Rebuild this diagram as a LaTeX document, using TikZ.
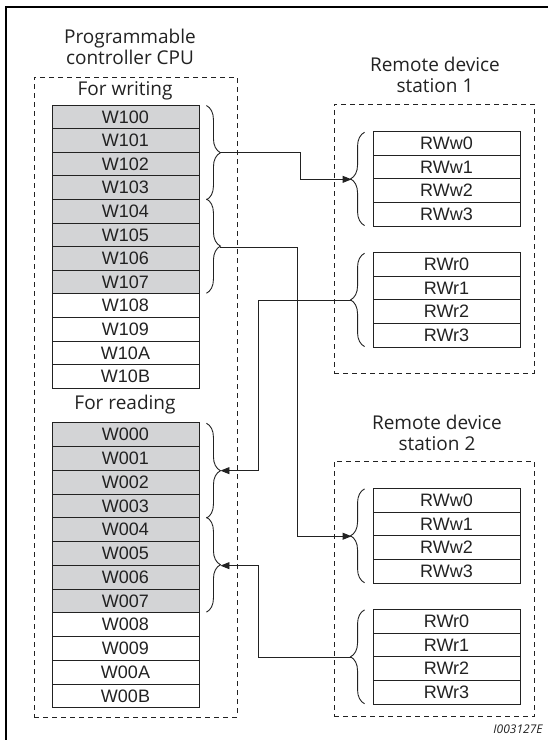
\documentclass[tikz,border=0pt]{standalone}
\usepackage{fontspec}
\setmainfont{Liberation Sans}
\newfontfamily\titlefont{Open Sans}
\usetikzlibrary{arrows.meta,decorations.pathreplacing,calc}
\definecolor{cellgray}{HTML}{D3D4D6}
\definecolor{ink}{HTML}{222222}
\begin{document}
\begin{tikzpicture}[x=1pt,y=-1pt,
  cell/.style={draw=ink, line width=0.9pt, minimum width=147pt, minimum height=23.6pt,
    inner sep=0pt, font=\fontsize{18}{18}\selectfont, text=ink},
  gcell/.style={cell, fill=cellgray},
  title/.style={font=\titlefont\fontsize{19}{21}\selectfont, align=center, text=ink, inner sep=0pt},
  dbox/.style={draw=ink, line width=0.9pt, dash pattern=on 5pt off 4pt, inner sep=0pt},
  brc/.style={draw=ink, line width=0.9pt, decorate, decoration={brace, amplitude=14pt}},
  conn/.style={draw=ink, line width=0.9pt},
  arr/.style={conn, -{Triangle[length=9pt,width=7pt]}}
]
\useasboundingbox (0,0) rectangle (548,740);
% frame
\draw[line width=2.2pt, black] (6.2,745) -- (6.2,7.2) -- (552,7.2);

% dashed boxes
\node[dbox, minimum width=203pt, minimum height=640pt] (cpu) at (135.5,397) {};
\node[dbox, minimum width=200pt, minimum height=269pt] (st1) at (434,238.5) {};
\node[dbox, minimum width=200pt, minimum height=255.7pt] (st2) at (434,588.85) {};

% titles
\node[title] (cputitle) at (130,46.5) {Programmable\\controller CPU};
\node[title] (forw) at (125,91) {For writing};
\node[title] (forr) at (125,405) {For reading};
\node[title] (st1title) at (435,74.5) {Remote device\\station 1};
\node[title] (st2title) at (437,432.5) {Remote device\\station 2};

% CPU writing cells
\foreach \t [count=\i from 0] in {W100,W101,W102,W103,W104,W105,W106,W107}
  \node[gcell] (\t) at (125.5,{105+23.6*(\i+0.5)}) {\t};
\foreach \t [count=\i from 8] in {W108,W109,W10A,W10B}
  \node[cell] (\t) at (125.5,{105+23.6*(\i+0.5)}) {\t};
% CPU reading cells
\foreach \t [count=\i from 0] in {W000,W001,W002,W003,W004,W005,W006,W007}
  \node[gcell, minimum height=23.75pt] (\t) at (125.5,{422.7+23.75*(\i+0.5)}) {\t};
\foreach \t [count=\i from 8] in {W008,W009,W00A,W00B}
  \node[cell, minimum height=23.75pt] (\t) at (125.5,{422.7+23.75*(\i+0.5)}) {\t};

% station cells
\foreach \i in {0,1,2,3} {
  \node[cell] (s1w\i) at (446.5,{131.7+23.6*(\i+0.5)}) {RWw\i};
  \node[cell] (s1r\i) at (446.5,{252.7+23.6*(\i+0.5)}) {RWr\i};
  \node[cell, minimum height=23.75pt] (s2w\i) at (446.5,{488.3+23.75*(\i+0.5)}) {RWw\i};
  \node[cell, minimum height=23.75pt] (s2r\i) at (446.5,{609.3+23.75*(\i+0.5)}) {RWr\i};
}

% braces CPU
\draw[brc] ($(W100.north east)+(7,1)$) -- ($(W103.south east)+(7,0)$);
\draw[brc] ($(W104.north east)+(7,0)$) -- ($(W107.south east)+(7,-1)$);
\draw[brc] ($(W000.north east)+(7,1)$) -- ($(W003.south east)+(7,0)$);
\draw[brc] ($(W004.north east)+(7,0)$) -- ($(W007.south east)+(7,-1)$);
% braces stations
\draw[brc] ($(s1w3.south west)+(-8,-1)$) -- ($(s1w0.north west)+(-8,1)$);
\draw[brc] ($(s1r3.south west)+(-8,-1)$) -- ($(s1r0.north west)+(-8,1)$);
\draw[brc] ($(s2w3.south west)+(-8,-1)$) -- ($(s2w0.north west)+(-8,1)$);
\draw[brc] ($(s2r3.south west)+(-8,-1)$) -- ($(s2r0.north west)+(-8,1)$);

% brace tips
\coordinate (bw1) at ($(W101.south east)+(21,0)$);
\coordinate (bw2) at ($(W105.south east)+(21,0)$);
\coordinate (br1) at ($(W001.south east)+(21,0)$);
\coordinate (br2) at ($(W005.south east)+(21,0)$);
\coordinate (s1wt) at ($(s1w1.south west)+(-21,0)$);
\coordinate (s1rt) at ($(s1r1.south west)+(-21,0)$);
\coordinate (s2wt) at ($(s2w1.south west)+(-21,0)$);
\coordinate (s2rt) at ($(s2r1.south west)+(-21,0)$);
\coordinate (v1) at (300.5,0);
\coordinate (v2) at (297,0);
\coordinate (v3) at (258,0);

% connectors
\draw[arr] (bw1) -- (bw1 -| v1) |- (s1wt);
\draw[arr] (bw2) -- (bw2 -| v2) |- (s2wt);
\draw[arr] (s1rt) -- (s1rt -| v3) |- (br1);
\draw[arr] (s2rt) -- (s2rt -| v3) |- (br2);

% code label
\node[font=\titlefont\itshape\fontsize{12}{13}\selectfont, text=ink, inner sep=0pt] (code) at (518,729) {I003127E};
\end{tikzpicture}
\end{document}
